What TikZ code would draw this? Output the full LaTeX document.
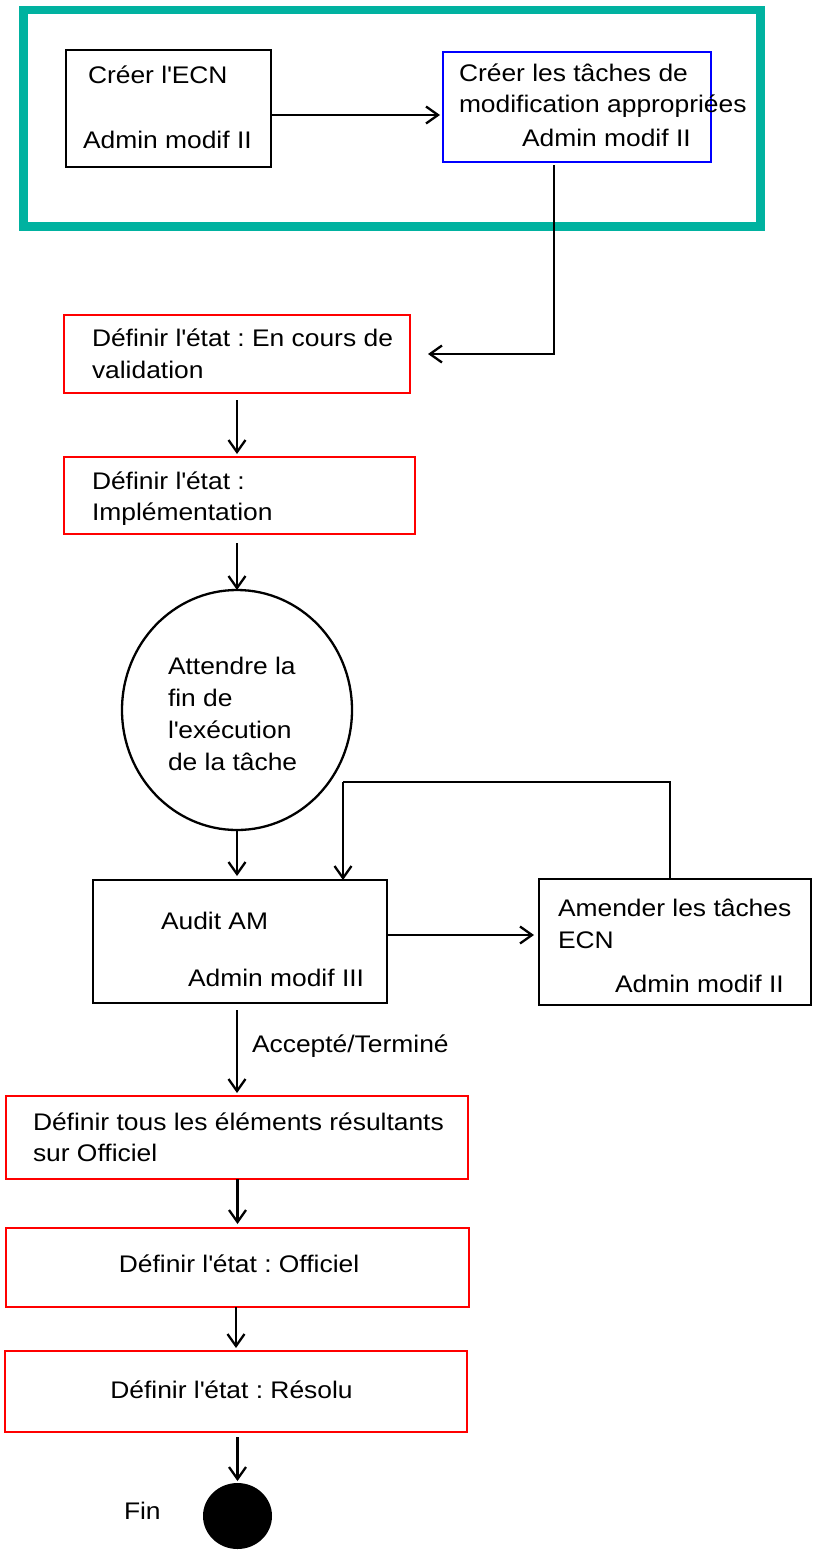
\documentclass[tikz,border=0pt]{standalone}
\usepackage{fontspec}
\setmainfont{Liberation Sans}[FakeStretch=1.1]
\usetikzlibrary{arrows.meta,shapes.geometric}
\definecolor{framecol}{RGB}{0,178,160}
\newcommand\apo{\textquotesingle}
\frenchspacing
\begin{document}
\begin{tikzpicture}[x=1pt,y=-1pt,
  every node/.style={inner sep=0pt, outer sep=0pt},
  txt/.style={anchor=base west, font=\fontsize{24}{31}\selectfont},
  ctxt/.style={anchor=base, font=\fontsize{24}{31}\selectfont},
  blackbox/.style={draw=black, line width=2.3pt, rectangle},
  redbox/.style={draw=red, line width=2.8pt, rectangle},
  bluebox/.style={draw=blue, line width=1.6pt, rectangle},
  frm/.style={draw=framecol, line width=8.5pt, rectangle},
  arr/.style={line width=2.3pt, -{Straight Barb[length=12pt,width=17pt,line width=2.3pt]}},
  conn/.style={line width=2.3pt}]
\useasboundingbox (0,0) rectangle (816,1550);
% frame
\node[frm, minimum width=737pt, minimum height=216.5pt] (frame) at (392,118.25) {};
% boxes
\node[blackbox, minimum width=205pt, minimum height=117pt] (b1) at (168.5,108.5) {};
\node[bluebox, minimum width=268pt, minimum height=110pt] (b2) at (577,107) {};
\node[redbox, minimum width=346pt, minimum height=78pt] (r1) at (237,354) {};
\node[redbox, minimum width=351pt, minimum height=77pt] (r2) at (239.5,495.5) {};
\node[draw, line width=2.3pt, ellipse, minimum width=230pt, minimum height=240pt] (circ) at (237,710) {};
\node[blackbox, minimum width=294pt, minimum height=123pt] (audit) at (240,941.5) {};
\node[blackbox, minimum width=272pt, minimum height=126pt] (amend) at (675,942) {};
\node[redbox, minimum width=462pt, minimum height=83pt] (r3) at (237,1137.5) {};
\node[redbox, minimum width=463pt, minimum height=79pt] (r4) at (237.5,1267.5) {};
\node[redbox, minimum width=462pt, minimum height=81pt] (r5) at (236,1391.5) {};
\node[fill=black, ellipse, minimum width=69pt, minimum height=66pt] (fin) at (237.5,1516) {};
% texts
\node[txt] (t1) at (88,83) {Créer l\apo ECN};
\node[txt] (t2) at (83,148) {Admin modif II};
\node[txt] (t3) at (459,81) {Créer les tâches de};
\node[txt] (t4) at (459,112) {modification appropriées};
\node[txt] (t5) at (522,146) {Admin modif II};
\node[txt] (t6) at (92,346) {Définir l\apo état : En cours de};
\node[txt] (t7) at (92,378) {validation};
\node[txt] (t8) at (92,489) {Définir l\apo état :};
\node[txt] (t9) at (92,520) {Implémentation};
\node[txt] (t10) at (168,674) {Attendre la};
\node[txt] (t11) at (168,706) {fin de};
\node[txt] (t12) at (168,738) {l\apo exécution};
\node[txt] (t13) at (168,770) {de la tâche};
\node[txt] (t14) at (161,929) {Audit AM};
\node[txt] (t15) at (188,986) {Admin modif III};
\node[txt] (t16) at (558,916) {Amender les tâches};
\node[txt] (t17) at (558,948) {ECN};
\node[txt] (t18) at (615,992) {Admin modif II};
\node[txt] (t19) at (252,1052) {Accepté/Terminé};
\node[txt] (t20) at (33,1130) {Définir tous les éléments résultants};
\node[txt] (t21) at (33,1161) {sur Officiel};
\node[ctxt] (t22) at (239,1272) {Définir l\apo état : Officiel};
\node[ctxt] (t23) at (231.5,1398) {Définir l\apo état : Résolu};
\node[txt] (t24) at (124,1519) {Fin};
% connectors
\draw[arr, shorten >=3pt] ([yshift=-6.5pt]b1.east) -- ([yshift=-6.5pt]b1.east -| b2.west);
\draw[arr, shorten <=3pt] ([xshift=-23pt]b2.south) |- ([xshift=18pt]r1.east);
\draw[arr, shorten <=7pt, shorten >=3pt] (r1.south) -- (r1.south |- r2.north);
\draw[arr, shorten <=9pt] (circ.north |- r2.south) -- (circ.north);
\draw[arr, shorten >=4pt] (circ.south) -- (circ.south |- audit.north);
\draw[arr, shorten <=1pt, shorten >=5pt] ([yshift=6.5pt]audit.east) -- ([yshift=6.5pt]audit.east -| amend.west);
\coordinate (lp) at (343,782);
\draw[conn] ([xshift=-5pt]amend.north) |- (lp);
\draw[arr] (lp) -- (lp |- audit.north);
\draw[arr, shorten <=7pt, shorten >=3pt] (r3.north |- audit.south) -- (r3.north);
\draw[arr, shorten >=4pt] (r4.north |- r3.south) -- (r4.north);
\draw[arr, shorten >=3pt] (r5.north |- r4.south) -- (r5.north);
\draw[arr, shorten <=5pt, shorten >=2pt] (fin.north |- r5.south) -- (fin.north);
\end{tikzpicture}
\end{document}
